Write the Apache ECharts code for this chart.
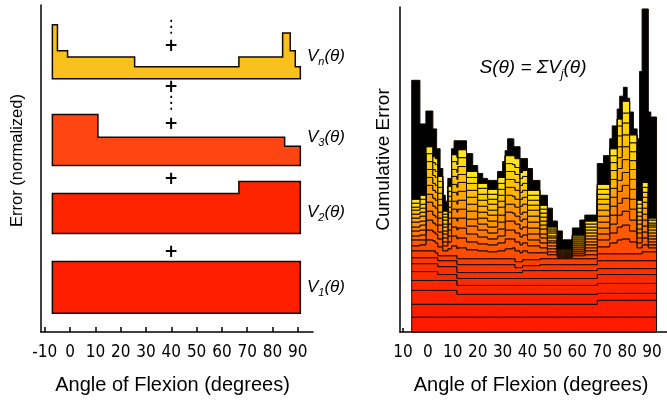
<!DOCTYPE html>
<html>
<head>
<meta charset="utf-8">
<script src="https://cdn.jsdelivr.net/npm/echarts@6.0.0/dist/echarts.min.js"></script>
<style>
  html, body { margin: 0; padding: 0; background: #fff; }
  #chart { width: 667px; height: 400px; }
</style>
</head>
<body>
<div id="chart"></div>
<script>
// ---- eje x (ángulo) ----
var tickValues = [-10, 0, 10, 20, 30, 40, 50, 60, 70, 80, 90];
var leftTickLabels = ['-10', '0', '10', '20', '30', '40', '50', '60', '70', '80', '90'];
var rightTickLabels = ['10', '0', '10', '20', '30', '40', '50', '60', '70', '80', '90']; // el signo aparece recortado en la figura

// ---- panel izquierdo: perfiles V_j(θ) como escalones [ángulo inicial, error] ----
var stripStart = -7, stripEnd = 91;
var v1 = [[-7, 1.0]];
var v2 = [[-7, 0.77], [66.7, 1.0]];
var v3 = [[-7, 0.98], [11, 0.54], [84.8, 0.37]];
var vn = [[-7, 1.04], [-5, 0.54], [-1, 0.42], [25.5, 0.23], [66.7, 0.42], [84, 0.88], [87, 0.54], [89, 0.23]];

// ---- panel derecho: capas acumuladas S(θ) = ΣV_j(θ) ----
var sumStart = -6.5, sumEnd = 91.8;
var red1 = [[-6.5, 1.5]];
var red2 = [[-6.5, 1.3], [68, 1.7]];
var red3 = [[-6.5, 1.4], [11.7, 1.0], [68, 0.7]];
var red4 = [[-6.5, 1.0], [11.7, 0.9], [68, 1.0]];
var red5 = [[-6.5, 0.9], [4, 0.6], [11.7, 0.7], [68, 0.9]];
var red6 = [[-6.5, 0.8], [11.7, 0.6], [38, 0.8], [68, 0.6]];
var red7 = [[-6.5, 0.6], [11.7, 0.8], [35, 0.5], [45, 0.6], [68, 0.8]];
var red8 = [[-6.5, 0.7], [3, 0.5], [11.7, 0.6], [68, 0.7], [86, 0.9]];

// capas superiores: un valor por tramo de upperStarts
var upperStarts = [-6.5, -3.2, -0.8, 2, 4, 6, 8, 9.5, 12, 15.5, 20, 24, 28, 31, 34, 37, 40, 45, 48, 52, 58, 63, 68, 73, 76, 78, 81, 84, 86, 88.5];
var orange1 = [0.5, 0.6, 1.1, 1.0, 0.9, 0.5, 0.7, 1.0, 1.1, 0.9, 0.8, 0.7, 0.8, 1.0, 1.1, 0.9, 0.7, 0.6, 0.4, 0.1, 0.3, 0.4, 0.7, 1.1, 1.4, 1.5, 1.2, 0.6, 0.7, 0.4];
var orange2 = [0.6, 0.5, 1.0, 0.9, 0.8, 0.5, 0.7, 1.0, 1.0, 0.8, 0.7, 0.7, 0.8, 1.0, 0.9, 0.8, 0.7, 0.5, 0.3, 0.1, 0.2, 0.4, 0.7, 1.0, 1.3, 1.4, 1.1, 0.5, 0.7, 0.3];
var orange3 = [0.4, 0.5, 1.0, 0.9, 0.7, 0.4, 0.6, 0.9, 1.0, 0.8, 0.7, 0.6, 0.7, 0.9, 0.9, 0.8, 0.6, 0.5, 0.3, 0.1, 0.2, 0.3, 0.6, 0.9, 1.2, 1.4, 1.1, 0.5, 0.6, 0.3];
var orange4 = [0.5, 0.5, 0.9, 0.8, 0.7, 0.4, 0.6, 0.9, 1.0, 0.8, 0.7, 0.6, 0.7, 0.9, 0.9, 0.8, 0.6, 0.5, 0.3, 0.1, 0.2, 0.3, 0.6, 0.9, 1.2, 1.3, 1.1, 0.5, 0.6, 0.3];
var orange5 = [0.4, 0.5, 0.9, 0.9, 0.7, 0.4, 0.6, 0.9, 0.9, 0.7, 0.6, 0.6, 0.7, 0.9, 0.8, 0.8, 0.6, 0.4, 0.3, 0.1, 0.2, 0.3, 0.6, 0.9, 1.2, 1.3, 1.0, 0.4, 0.6, 0.3];
var orange6 = [0.5, 0.4, 0.8, 0.8, 0.6, 0.3, 0.6, 0.8, 0.9, 0.8, 0.6, 0.6, 0.7, 0.8, 0.9, 0.7, 0.6, 0.5, 0.2, 0.1, 0.2, 0.3, 0.6, 0.9, 1.1, 1.3, 1.0, 0.5, 0.6, 0.3];
var yellow1 = [0.4, 0.5, 0.9, 0.8, 0.7, 0.4, 0.6, 0.9, 0.9, 0.7, 0.6, 0.6, 0.8, 0.9, 0.8, 0.8, 0.6, 0.4, 0.3, 0.1, 0.2, 0.3, 0.6, 0.9, 1.2, 1.3, 1.0, 0.4, 0.6, 0.3];
var yellow2 = [0.4, 0.4, 0.8, 0.7, 0.6, 0.3, 0.5, 0.8, 0.9, 0.7, 0.6, 0.5, 0.6, 0.8, 0.9, 0.7, 0.6, 0.4, 0.2, 0.1, 0.2, 0.3, 0.6, 0.9, 1.1, 1.3, 1.0, 0.4, 0.6, 0.3];
var yellow3 = [0.4, 0.4, 0.8, 0.8, 0.6, 0.4, 0.6, 0.8, 0.8, 0.7, 0.6, 0.6, 0.6, 0.8, 0.8, 0.7, 0.5, 0.4, 0.3, 0.1, 0.2, 0.3, 0.5, 0.9, 1.1, 1.2, 0.9, 0.4, 0.5, 0.2];
var yellow4 = [0.3, 0.4, 0.8, 0.6, 0.6, 0.3, 0.5, 0.7, 0.8, 0.7, 0.6, 0.5, 0.6, 0.8, 0.8, 0.7, 0.5, 0.4, 0.2, 0.1, 0.2, 0.3, 0.5, 0.8, 1.1, 1.2, 0.9, 0.4, 0.5, 0.2];
var yellow5 = [0.4, 0.5, 0.8, 0.7, 0.6, 0.3, 0.5, 0.8, 0.9, 0.6, 0.6, 0.5, 0.6, 0.8, 0.7, 0.7, 0.5, 0.4, 0.2, 0.0, 0.2, 0.3, 0.5, 0.7, 1.0, 1.0, 0.9, 0.4, 0.5, 0.3];
var yellow6 = [0.4, 0.4, 0.7, 0.6, 0.5, 0.3, 0.5, 0.7, 0.8, 0.6, 0.5, 0.5, 0.6, 0.8, 0.9, 0.6, 0.5, 0.4, 0.2, 0.0, 0.1, 0.3, 0.5, 0.7, 0.7, 1.2, 0.8, 0.4, 0.5, 0.2];

// capa superior (zona negra, muchas capas finas juntas)
var blackTop = [[-6.5, 12.0], [-3.2, 7.2], [-0.8, 3.6], [2, 2.8], [3, 3.0], [3.5, 1.0], [4, 2.8], [4.9, 0.8], [6, 1.6], [7, 1.0],
    [8, 0.8], [9.5, 0.6], [10.5, 1.4], [11.7, 1.7], [12, 0.9], [15.5, 1.8], [18, 0.6], [20, 1.0], [22, 0.5], [24, 0.9],
    [28, 0.6], [30, 1.6], [31, 0.5], [32, 1.7], [34.5, 0.9], [35, 1.2], [37, 1.4], [38, 1.2], [40, 2.2], [42, 1.0],
    [45, 1.0], [48, 1.9], [50, 0.6], [52, 1.8], [54, 0.9], [58, 0.7], [61, 1.5], [63, 0.6], [68, 2.1], [70.5, 2.9],
    [73, 1.0], [74, 2.3], [76, 1.0], [77, 2.3], [78, 0.5], [78.5, 1.4], [80, 0.3], [81, 2.3], [82.5, 0.6], [84, 6.2],
    [85, 13.0], [86, 17.5], [88.5, 10.7], [89.5, 10.2]];

// ---- layout ----
var stripOffsets = [0.36, 1.9, 3.21, 4.88]; // separación vertical de cada tira
var stripColors = ['#ff1f00', '#ff2400', '#ff4512', '#f8c11b'];
var redColors = ['#ff1a00', '#ff1d00', '#ff2100', '#ff2500', '#ff2a00', '#ff3000', '#ff3700', '#ff3f00'];
var upperColors = ['#ff4c00', '#ff5a00', '#ff6900', '#ff7800', '#ff8700', '#ff9600', '#ffa500', '#ffb400', '#ffc200', '#ffcf00', '#ffdb10', '#ffe620'];

var narrow = '"Liberation Sans Narrow", "Arial Narrow", "DejaVu Sans Condensed", sans-serif';
var sans = '"Liberation Sans", Arial, Helvetica, sans-serif';

function stepValue(profile, x) {
    var v = 0;
    profile.forEach(function (s) {
        if (s[0] <= x + 1e-9) v = s[1];
    });
    return v;
}

function edgesOf(profiles, start, end) {
    var xs = [start, end];
    profiles.forEach(function (p) {
        p.forEach(function (s) { xs.push(s[0]); });
    });
    xs.sort(function (a, b) { return a - b; });
    return xs.filter(function (x, i) {
        return x >= start && x <= end && (i === 0 || x !== xs[i - 1]);
    });
}

// contorno de un escalón entre lo (abajo) y hi (arriba), en coordenadas de datos
function outline(edges, lo, hi) {
    var pts = [];
    var j;
    for (j = 0; j < hi.length; j++) {
        pts.push([edges[j], hi[j]], [edges[j + 1], hi[j]]);
    }
    for (j = lo.length - 1; j >= 0; j--) {
        pts.push([edges[j + 1], lo[j]], [edges[j], lo[j]]);
    }
    return pts;
}

// tiras izquierdas
var strips = [v1, v2, v3, vn];
var stripPolys = strips.map(function (p, k) {
    var edges = edgesOf([p], stripStart, stripEnd);
    var lo = [], hi = [];
    for (var j = 0; j < edges.length - 1; j++) {
        lo.push(stripOffsets[k]);
        hi.push(stripOffsets[k] + stepValue(p, edges[j]));
    }
    return outline(edges, lo, hi);
});

// capas apiladas derechas
var upperLayers = [orange1, orange2, orange3, orange4, orange5, orange6, yellow1, yellow2, yellow3, yellow4, yellow5, yellow6].map(function (vals) {
    return vals.map(function (v, i) { return [upperStarts[i], v]; });
});
var sumLayers = [red1, red2, red3, red4, red5, red6, red7, red8].concat(upperLayers).concat([blackTop]);
var sumColors = redColors.concat(upperColors).concat(['#000000']);
var sumEdges = edgesOf(sumLayers, sumStart, sumEnd);
var running = sumEdges.slice(0, -1).map(function () { return 0; });
var sumPolys = sumLayers.map(function (p) {
    var lo = running.slice();
    running = running.map(function (v, j) { return v + stepValue(p, sumEdges[j]); });
    return outline(sumEdges, lo, running);
});

function polySeries(polys, colors, axisIndex, lineWidth) {
    return {
        type: 'custom',
        xAxisIndex: axisIndex,
        yAxisIndex: axisIndex,
        silent: true,
        data: polys.map(function () { return [0, 0]; }),
        renderItem: function (params, api) {
            var pts = polys[params.dataIndex].map(function (p) { return api.coord(p); });
            return {
                type: 'polygon',
                shape: { points: pts },
                style: { fill: colors[params.dataIndex], stroke: '#140800', lineWidth: lineWidth }
            };
        }
    };
}

function xAxisFor(grid, min, labels, namePad) {
    return {
        gridIndex: grid,
        type: 'value',
        min: min,
        max: 96,
        name: 'Angle of Flexion (degrees)',
        nameLocation: 'middle',
        nameGap: 43,
        nameTextStyle: { fontFamily: sans, fontSize: 20, color: '#000', padding: namePad },
        axisLine: { onZero: false, lineStyle: { color: '#000', width: 1.5 } },
        axisTick: { inside: true, length: grid === 0 ? 5 : 4, customValues: tickValues, lineStyle: { color: '#000', width: 1.5 } },
        axisLabel: {
            customValues: tickValues,
            margin: 12,
            fontFamily: narrow,
            fontSize: 17,
            color: '#000',
            formatter: function (v) { return labels[tickValues.indexOf(v)]; }
        },
        splitLine: { show: false }
    };
}

function yAxisFor(grid, max, name, gap, size, pad) {
    return {
        gridIndex: grid,
        type: 'value',
        min: 0,
        max: max,
        name: name,
        nameLocation: 'middle',
        nameGap: gap,
        nameTextStyle: { fontFamily: sans, fontSize: size, color: '#000', padding: pad },
        axisLine: { show: true, onZero: false, lineStyle: { color: '#000', width: 1.5 } },
        axisTick: { show: false },
        axisLabel: { show: false },
        splitLine: { show: false }
    };
}

function vLabel(sub, y) {
    return {
        type: 'text',
        x: 307,
        y: y,
        style: {
            text: '{v|V}{s|' + sub + '}{v|(θ)}',
            align: 'left',
            verticalAlign: 'middle',
            rich: {
                v: { fontFamily: sans, fontStyle: 'italic', fontSize: 17, lineHeight: 22, verticalAlign: 'middle', fill: '#000' },
                s: { fontFamily: sans, fontStyle: 'italic', fontSize: 11, lineHeight: 22, verticalAlign: 'bottom', fill: '#000' }
            }
        }
    };
}

function mark(text, y, size, weight) {
    return {
        type: 'text',
        x: 171,
        y: y,
        style: { text: text, fontFamily: '"DejaVu Sans", sans-serif', fontWeight: weight, fontSize: size, fill: '#000', align: 'center', verticalAlign: 'middle' }
    };
}

var chart = echarts.init(document.getElementById('chart'));

var option = {
    animation: false,
    grid: [
        { left: 41, top: 5, width: 272, height: 328 },
        { left: 400, top: 7, width: 267, height: 328 }
    ],
    xAxis: [
        xAxisFor(0, -11.5, leftTickLabels, [0, 9, 0, 0]),
        xAxisFor(1, -11.2, rightTickLabels, [0, 5, 0, 0])
    ],
    yAxis: [
        yAxisFor(0, 6.3, 'Error (normalized)', 15, 16.5, [0, 0, 0, 16]),
        yAxisFor(1, 32.8, 'Cumulative Error', 7, 19, [0, 0, 0, 20])
    ],
    graphic: [
        mark('⋮', 28, 17, 'normal'),
        mark('+', 47, 17, 'bold'),
        mark('+', 88, 17, 'bold'),
        mark('⋮', 104, 17, 'normal'),
        mark('+', 125, 17, 'bold'),
        mark('+', 180, 17, 'bold'),
        mark('+', 253, 17, 'bold'),
        vLabel('n', 56),
        vLabel('3', 137),
        vLabel('2', 212),
        vLabel('1', 287),
        {
            type: 'text',
            x: 533,
            y: 68,
            style: {
                text: '{v|S(θ) = ΣV}{s|j}{v|(θ)}',
                align: 'center',
                verticalAlign: 'middle',
                rich: {
                    v: { fontFamily: sans, fontStyle: 'italic', fontSize: 19, lineHeight: 26, verticalAlign: 'middle', fill: '#000' },
                    s: { fontFamily: sans, fontStyle: 'italic', fontSize: 12, lineHeight: 26, verticalAlign: 'bottom', fill: '#000' }
                }
            }
        }
    ],
    series: [
        polySeries(stripPolys, stripColors, 0, 1.5),
        polySeries(sumPolys, sumColors, 1, 1)
    ]
};

chart.setOption(option);
</script>
</body>
</html>
